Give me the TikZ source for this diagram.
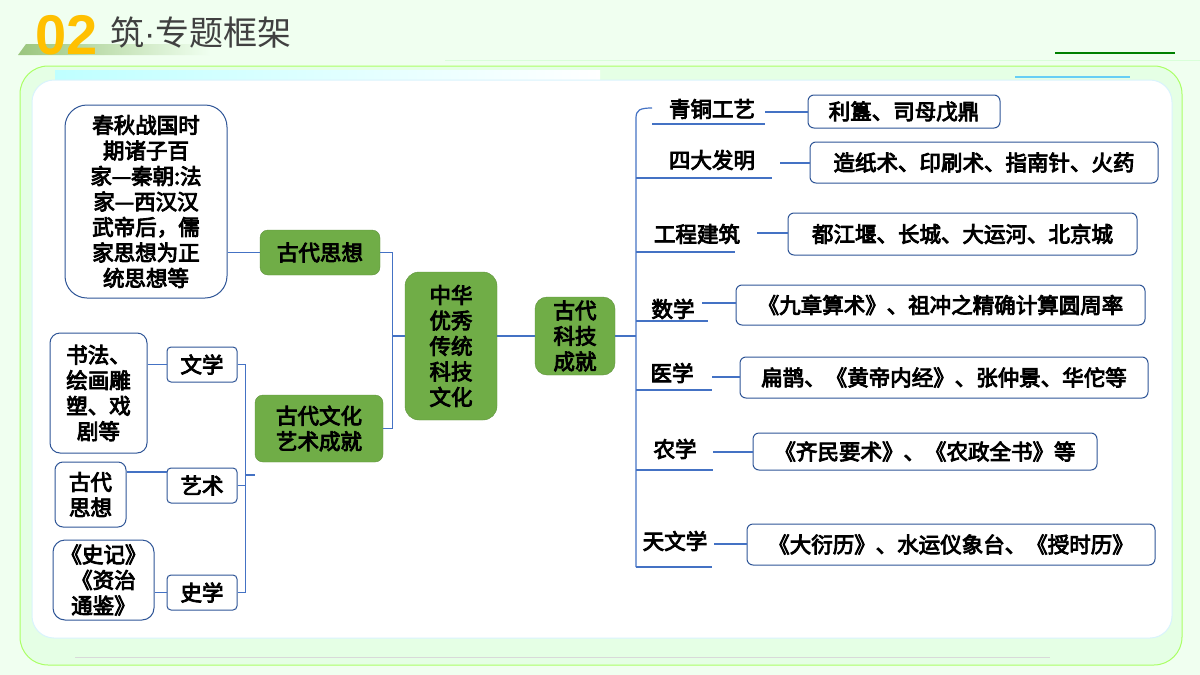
\documentclass[tikz,border=0pt]{standalone}
\usepackage{fontspec}
\setmainfont{Noto Sans CJK SC}[BoldFont={Noto Sans CJK SC}, BoldFeatures={FakeBold=4}]
\newfontfamily\lat{Liberation Sans}
\usetikzlibrary{calc}
\definecolor{gr}{HTML}{70AD47}
\definecolor{bl}{HTML}{2F5597}
\definecolor{ln}{HTML}{4472C4}
\begin{document}
\begin{tikzpicture}[x=1pt,y=-1pt,
 txt/.style={font=\fontsize{21.5}{25.5}\selectfont\bfseries, text=black, inner sep=0pt},
 gbox/.style={txt, fill=gr, draw=gr!85!black, rounded corners=8pt, align=center},
 wbox/.style={txt, draw=bl, line width=1pt, fill=white, rounded corners=8pt, align=center},
 lab/.style={txt},
 con/.style={draw=ln, line width=1.2pt}]
\useasboundingbox (0,0) rectangle (1200,675);
\fill[green!6!white] (0,0) rectangle (1200,675);
% header
\shade[left color=gr!70, right color=green!6] (26,44) -- (210,44) -- (210,55) -- (18,55) -- cycle;
\node[anchor=west, inner sep=0pt, font=\lat\fontsize{56}{58}\selectfont\bfseries, text={rgb,255:red,255;green,192;blue,0}] (num) at (35,35) {02};
\node[anchor=west, inner sep=0pt, font=\fontsize{34}{36}\selectfont, text=black!75] (ttl) at (110,33) {筑{\lat ·}专题框架};
\draw[green!50!black, line width=2.5pt] (1055,53) -- (1175,53);
\draw[green!15, line width=1pt] (445,60) -- (1200,60);
% frames
\draw[green!40!lime!60, line width=1pt, fill=white!90!green, rounded corners=28pt] (20,66) rectangle (1182,665);
\shade[left color=cyan!25, right color=white] (55,70) rectangle (600,80);
\draw[cyan!15, line width=1pt, fill=white, rounded corners=22pt] (32,80) rectangle (1172,638);
\draw[cyan!60, line width=2pt] (1015,77) -- (1130,77);
\draw[black!15, line width=0.8pt] (75,657) -- (1050,657);
% left part
\node[wbox, minimum width=162pt, minimum height=193pt, rounded corners=22pt, text width=150pt] (big) at (146,201.5) {春秋战国时\\期诸子百\\家—秦朝:法\\家—西汉汉\\武帝后，儒\\家思想为正\\统思想等};
\node[gbox, minimum width=120pt, minimum height=45pt] (sx) at (320,252.5) {古代思想};
\node[gbox, minimum width=92pt, minimum height=148pt, rounded corners=14pt] (zh) at (451,346) {中华\\优秀\\传统\\科技\\文化};
\node[gbox, minimum width=80pt, minimum height=78pt, rounded corners=12pt] (kj) at (575,336) {古代\\科技\\成就};
\node[gbox, minimum width=128pt, minimum height=67pt] (wh) at (319,428.5) {古代文化\\艺术成就};
\node[wbox, minimum width=70pt, minimum height=35pt, rounded corners=4pt] (wx) at (202,364.5) {文学};
\node[wbox, minimum width=70pt, minimum height=35pt, rounded corners=4pt] (ys) at (202,485.5) {艺术};
\node[wbox, minimum width=70pt, minimum height=35pt, rounded corners=4pt] (sx2) at (202,592.5) {史学};
\node[wbox, minimum width=97pt, minimum height=120pt, rounded corners=10pt] (sf) at (98.5,393) {书法、\\绘画雕\\塑、戏\\剧等};
\node[wbox, minimum width=71pt, minimum height=65pt, rounded corners=8pt] (gd) at (90.5,494.5) {古代\\思想};
\node[wbox, minimum width=101pt, minimum height=80pt, rounded corners=12pt] (sj) at (103.5,580) {《史记》\\《资治\\通鉴》};
\draw[con] (big.east |- sx.west) -- (sx.west);
\draw[con] (sx.east) -- ++(12,0) |- (wh.east);
\draw[con] (392,336) -- (zh.west |- 0,336);
\draw[con] (sf.east |- wx.west) -- (wx.west);
\draw[con] (gd.east |- 0,472) -- (ys.west |- 0,472);
\draw[con] (sj.east |- sx2.west) -- (sx2.west);
\draw[con] (wx.east) -- ++(8,0) |- (sx2.east);
\draw[con] (ys.east) -- ++(8,0);
\draw[con] (245,475) -- (wh.west |- 0,475);
\draw[con] (zh.east |- kj.west) -- (kj.west);
% right part
\draw[con] (kj.east) -- (636,336);
\draw[con] (652,108) .. controls (640,108) and (636,110) .. (636,118) -- (636,567);
\foreach \n/\t/\cx/\cy/\ux/\uy/\cxs in {
 a/青铜工艺/712/109/652/124/765,
 b/四大发明/712/160/636/178/772,
 c/工程建筑/697/234/636/252/735,
 d/数学/673/309/636/321/708,
 e/医学/672/373/636/390/712,
 f/农学/675/449/636/470/713,
 g/天文学/675/541/636/567/712}{
 \node[lab] (l\n) at (\cx,\cy) {\t};
 \coordinate (u\n) at (\ux,\uy);
 \draw[con] (u\n) -- (\cxs,\uy);
}
\node[wbox, minimum width=192pt, minimum height=33pt, rounded corners=6pt] (ba) at (904,111.5) {利簋、司母戊鼎};
\node[wbox, minimum width=348pt, minimum height=41pt, rounded corners=6pt] (bb) at (984,162.5) {造纸术、印刷术、指南针、火药};
\node[wbox, minimum width=349pt, minimum height=42pt, rounded corners=6pt] (bc) at (962.5,234) {都江堰、长城、大运河、北京城};
\node[wbox, minimum width=409pt, minimum height=40pt, rounded corners=6pt] (bd) at (940.5,305) {《九章算术》、祖冲之精确计算圆周率};
\node[wbox, minimum width=408pt, minimum height=41pt, rounded corners=6pt] (be) at (944,377.5) {扁鹊、《黄帝内经》、张仲景、华佗等};
\node[wbox, minimum width=344pt, minimum height=37pt, rounded corners=6pt] (bf) at (925,451.5) {《齐民要术》、《农政全书》等};
\node[wbox, minimum width=408pt, minimum height=41pt, rounded corners=6pt] (bg) at (951,544.5) {《大衍历》、水运仪象台、《授时历》};
\draw[con] (765,112) -- (ba.west |- 0,112);
\draw[con] (780,163) -- (bb.west |- 0,163);
\draw[con] (757,233) -- (bc.west |- 0,233);
\draw[con] (702,303) -- (bd.west |- 0,303);
\draw[con] (712,377) -- (be.west |- 0,377);
\draw[con] (713,452) -- (bf.west |- 0,452);
\draw[con] (714,544) -- (bg.west |- 0,544);
\end{tikzpicture}
\end{document}
